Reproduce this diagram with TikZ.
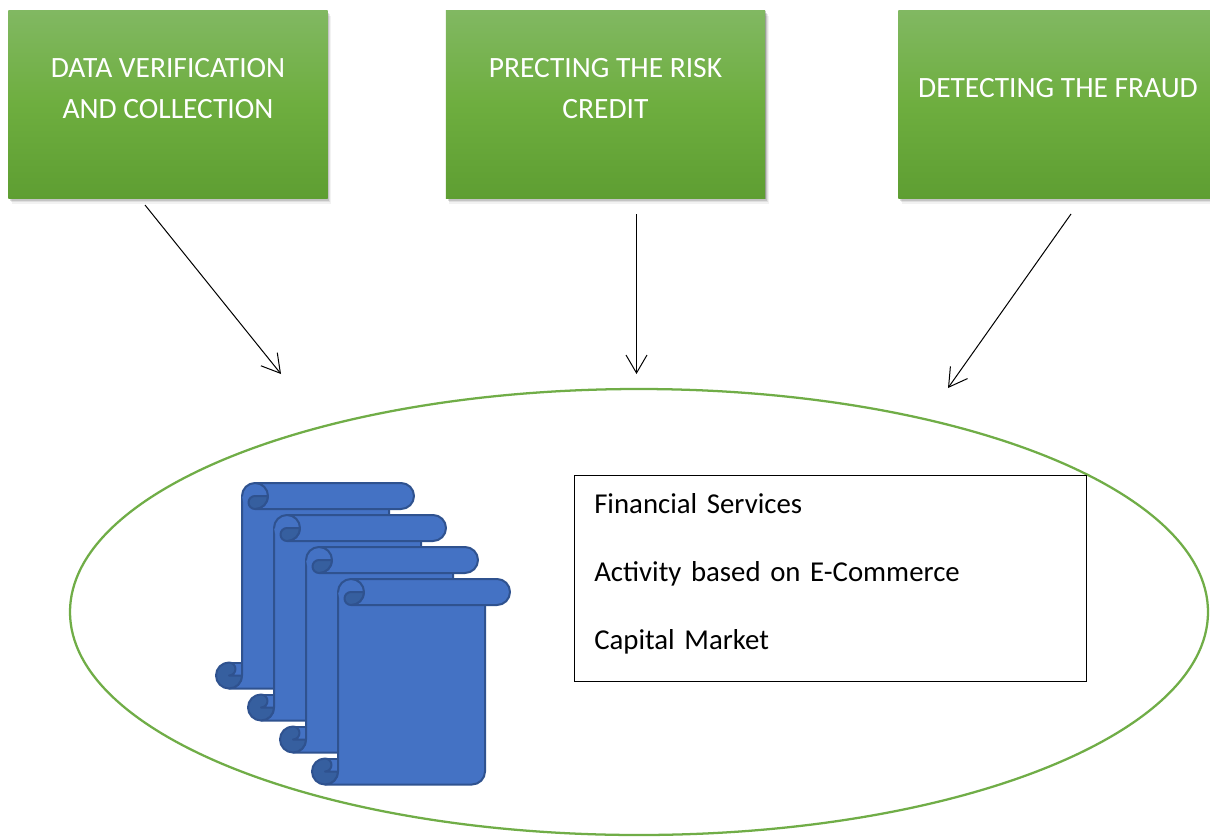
\documentclass[tikz,border=0pt]{standalone}
\usepackage{fontspec}
\setmainfont{Carlito}
\usetikzlibrary{arrows.meta,shapes.geometric,shadows}
\definecolor{grnTop}{HTML}{81B862}
\definecolor{grnMid}{HTML}{6EAE3F}
\definecolor{grnBot}{HTML}{5E9E32}
\definecolor{grnLine}{HTML}{70AD47}
\definecolor{blueFill}{HTML}{4472C4}
\definecolor{blueLine}{HTML}{2F528F}
\definecolor{blueDark}{HTML}{365F9F}
\tikzset{
  x=.75pt,y=.75pt,
  greenbox/.style={rectangle,minimum width=239.5pt,minimum height=141pt,inner sep=0pt,
    top color=grnTop,bottom color=grnBot,middle color=grnMid,draw=none,
    general shadow={shadow xshift=2.6pt,shadow yshift=-4.2pt,fill=black,opacity=.05},
    general shadow={shadow xshift=2pt,shadow yshift=-3.2pt,fill=black,opacity=.08},
    general shadow={shadow xshift=1.3pt,shadow yshift=-2.2pt,fill=black,opacity=.12},
    general shadow={shadow xshift=.6pt,shadow yshift=-1.1pt,fill=black,opacity=.2}},
  boxtext/.style={text=white,align=center,font=\fontsize{22.1}{30.75}\selectfont,inner sep=0pt},
  arrowline/.style={draw=black,line width=.75pt,-{Straight Barb[length=13.5pt,width=15.75pt,line width=.75pt]}},
  scrollline/.style={draw=blueLine,line width=1.5pt,line join=round,line cap=round},
  pics/docscroll/.style={code={
    \def\rr{9.75pt}\def\rs{4.875pt}
    % body, open along the top
    \path[scrollline,fill=blueFill] (147,-13) -- (147,-192.5) arc (0:-90:\rr) -- (-13,-205.5) arc (-90:0:\rr) -- (0,-13);
    % bottom roll
    \path[scrollline,fill=blueFill] (-13,-179.5) -- (0,-179.5) -- (0,-192.5) -- (-13,-192.5) -- cycle;
    \path[scrollline,fill=blueDark] (-13,-179.5) arc (90:360:\rr) -- (-13,-192.5) arc (-90:90:\rs) -- cycle;
    % top roll
    \fill[blueFill] (13,-13) circle[radius=\rr];
    \path[scrollline,fill=blueFill] (13,0) -- (159,0) arc (90:-90:\rr) -- (13,-26) arc (-90:90:\rr) -- cycle;
    \path[scrollline] (0,-13) arc (180:90:\rr);
    \path[scrollline,fill=blueDark] (13,-13) -- (26,-13) arc (0:-90:\rr) arc (270:90:\rs) -- cycle;
  }}
}
\begin{document}
\begin{tikzpicture}
\useasboundingbox (0,-836) rectangle (1210,0);
\node[ellipse,draw=grnLine,line width=1.7pt,fill=white,minimum width=853.5pt,minimum height=334.5pt,inner sep=0pt] (hub) at (639,-612) {};

\node[greenbox] (b1) at (168,-104) {};
\node[greenbox] (b2) at (605.5,-104) {};
\node[greenbox] (b3) at (1058,-104) {};
\node[boxtext] (t1) at (168,-88.5) {DATA VERIFICATION\\AND COLLECTION};
\node[boxtext] (t2) at (605.5,-88.5) {PRECTING THE RISK\\CREDIT};
\node[boxtext] (t3) at (1058,-88) {DETECTING THE FRAUD};

\coordinate (a1s) at (145,-205);
\coordinate (a1e) at (281,-374);
\coordinate (a2s) at (636.5,-214);
\coordinate (a2e) at (636.5,-374);
\coordinate (a3s) at (1071,-214);
\coordinate (a3e) at (948,-388);
\draw[arrowline] (a1s) -- (a1e);
\draw[arrowline] (a2s) -- (a2e);
\draw[arrowline] (a3s) -- (a3e);

\pic at (242,-483) {docscroll};
\pic at (274,-515) {docscroll};
\pic at (306,-547) {docscroll};
\pic at (338,-579) {docscroll};

\node[draw=black,line width=.75pt,rectangle,minimum width=384pt,minimum height=154.5pt,inner sep=0pt] (list) at (830,-578) {};
\node[anchor=west,inner sep=0pt,text width=360pt,align=left,font=\fontsize{21.6}{51}\selectfont] (listtext) at (594,-574)
  {Financial Services\\Activity based on E-Commerce\\Capital Market};
\end{tikzpicture}
\end{document}
